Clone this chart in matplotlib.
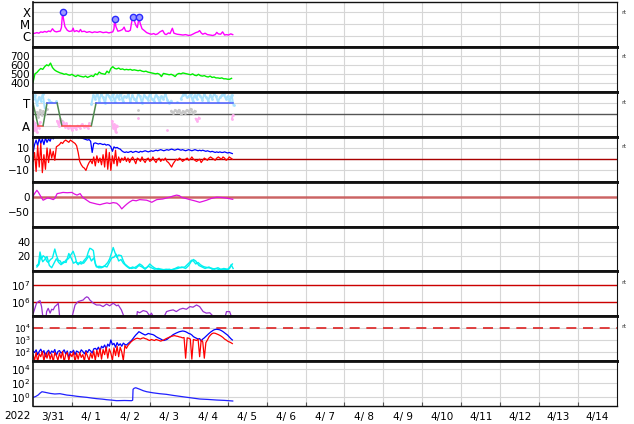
import numpy as np
import matplotlib
matplotlib.use("Agg")
import matplotlib.pyplot as plt

# time axis: days since 2022-03-31 00:00
day_labels = ["3/31", "4/ 1", "4/ 2", "4/ 3", "4/ 4", "4/ 5", "4/ 6", "4/ 7",
              "4/ 8", "4/ 9", "4/10", "4/11", "4/12", "4/13", "4/14"]

# --- panel 1: X-ray flux ---
xrs_t = [0.00, 0.05, 0.10, 0.15, 0.20, 0.25, 0.30, 0.35, 0.40, 0.45, 0.50, 0.55, 0.60, 0.65,
         0.70, 0.73, 0.76, 0.78, 0.82, 0.88, 0.93, 1.00, 1.03, 1.06, 1.12, 1.18, 1.22, 1.25,
         1.32, 1.38, 1.45, 1.52, 1.58, 1.65, 1.72, 1.80, 1.88, 1.95, 2.00, 2.05, 2.08, 2.10,
         2.13, 2.18, 2.24, 2.30, 2.34, 2.38, 2.45, 2.50, 2.53, 2.56, 2.60, 2.64, 2.68, 2.70,
         2.72, 2.75, 2.80, 2.86, 2.92, 3.00, 3.05, 3.10, 3.15, 3.20, 3.26, 3.33, 3.38, 3.42,
         3.48, 3.52, 3.58, 3.62, 3.70, 3.78, 3.85, 3.92, 4.00, 4.06, 4.12, 4.18, 4.24, 4.28,
         4.32, 4.36, 4.42, 4.48, 4.55, 4.62, 4.68, 4.72, 4.76, 4.82, 4.87, 4.92, 4.97, 5.02,
         5.08, 5.13]
xrs_v = [1.6e-6, 1.7e-6, 1.9e-6, 1.7e-6, 2.2e-6, 2.0e-6, 2.4e-6, 2.1e-6, 2.6e-6, 2.3e-6,
         4.0e-6, 2.5e-6, 2.2e-6, 2.4e-6, 2.6e-6, 5.0e-6, 9.5e-5, 3.0e-5, 6.0e-6, 3.0e-6,
         2.4e-6, 2.6e-6, 4.5e-6, 2.3e-6, 2.8e-6, 2.2e-6, 3.5e-6, 2.3e-6, 2.5e-6, 2.0e-6,
         2.3e-6, 1.9e-6, 2.2e-6, 2.0e-6, 2.3e-6, 1.9e-6, 2.1e-6, 1.8e-6, 2.0e-6, 2.2e-6,
         4.0e-6, 2.8e-5, 6.0e-6, 2.5e-6, 2.8e-6, 3.5e-6, 5.5e-6, 2.6e-6, 2.4e-6, 3.0e-6,
         1.2e-5, 4.0e-5, 2.0e-5, 8.0e-6, 5.0e-6, 1.2e-5, 4.0e-5, 1.2e-5, 4.0e-6, 2.8e-6,
         1.9e-6, 1.5e-6, 1.4e-6, 1.6e-6, 1.3e-6, 1.5e-6, 2.2e-6, 2.9e-6, 1.5e-6, 1.3e-6,
         1.8e-6, 1.6e-6, 4.4e-6, 1.7e-6, 1.4e-6, 1.3e-6, 1.2e-6, 1.3e-6, 1.1e-6, 1.2e-6,
         1.5e-6, 1.9e-6, 2.2e-6, 2.8e-6, 1.8e-6, 1.4e-6, 1.7e-6, 1.3e-6, 1.2e-6, 1.1e-6,
         1.3e-6, 2.0e-6, 1.5e-6, 1.4e-6, 2.2e-6, 1.2e-6, 1.3e-6, 1.2e-6, 1.5e-6, 1.3e-6]
flare_t = [0.76, 2.10, 2.56, 2.72]
flare_v = [9.5e-5, 2.8e-5, 4.0e-5, 4.0e-5]

# --- panel 2: solar wind speed (every 0.05 day) ---
sw_dt = 0.05
sw_v = [405, 500, 515, 540, 560, 550, 580, 600, 590, 620, 570, 545, 530, 520, 510, 505,
        495, 500, 490, 485, 495, 480, 470, 485, 475, 470, 465, 475, 460, 470, 480, 470,
        500, 490, 520, 505, 500, 495, 530, 510, 560, 580, 560, 555, 565, 550, 555, 545,
        550, 545, 550, 540, 545, 540, 535, 540, 530, 525, 530, 520, 515, 510, 505, 500,
        505, 495, 470, 505, 500, 495, 490, 495, 485, 470, 495, 505, 500, 510, 505, 500,
        495, 490, 500, 485, 480, 495, 480, 475, 480, 470, 465, 475, 460, 465, 455, 455,
        450, 455, 445, 445, 440, 440, 450]

# --- panel 3: IMF sector ---
sector_t = [0.00, 0.13, 0.26, 0.36, 0.62, 0.74, 1.50, 1.62, 5.13]
sector_v = [0.5, -0.5, -0.5, 0.5, 0.5, -0.5, -0.5, 0.5, 0.5]
nan = np.nan
phi_dt = 0.05
phi_v = [0.7, 0.85, 0.4, 0.75, 0.6, 0.9, 0.3,
         nan, 0.65, 0.55, nan, nan, 0.6,
         nan, nan, nan, nan, nan, nan, nan, nan, nan, nan, nan, nan, nan, nan, nan, nan, nan,
         0.45, 0.85, 0.7, 0.95, 0.6, 0.9, 0.75, 0.5, 0.95, 0.8,
         0.65, 0.9, 0.55, 0.85, 0.7, 0.95, 0.6, 0.8, 0.75, 0.9,
         0.55, 0.85, 0.7, 0.6, 0.9, 0.8, 0.5, 0.85, 0.75, 0.65,
         0.9, 0.7, 0.6, 0.85, 0.75, 0.55, 0.8, 0.7, 0.9, 0.65,
         0.5, 0.6, nan, nan, 0.55, nan, 0.7, 0.85, 0.95, 0.75,
         0.8, 0.9, 0.6, 0.85, 0.7, 0.95, 0.8, 0.65, 0.9, 0.75,
         0.6, 0.85, 0.7, 0.9, 0.8, 0.55, 0.75, 0.85, 0.9, 0.7,
         0.8, 0.6, 0.85, 0.4]
pink_t = [0.00, 0.03, 0.06, 0.09, 0.12, 0.15, 0.18, 0.20, 0.62, 0.66, 0.70, 0.74, 0.78, 0.82,
          0.86, 0.90, 0.95, 1.00, 1.05, 1.10, 1.15, 1.20, 1.25, 1.30, 1.35, 1.40, 1.45, 1.47,
          2.03, 2.06, 2.09, 2.12, 2.15, 2.17, 2.70, 2.72, 3.45, 3.47, 4.18, 4.22, 4.26, 4.28,
          5.11, 5.13]
pink_v = [-0.3, -0.7, -0.4, -0.8, -0.5, -0.6, -0.35, nan, -0.3, -0.5, -0.2, -0.45, -0.35, -0.55,
          -0.4, -0.6, -0.5, -0.7, -0.55, -0.65, -0.5, -0.6, -0.45, -0.55, -0.5, -0.6, -0.4, nan,
          -0.3, -0.6, -0.45, -0.8, -0.5, nan, -0.15, nan, -0.7, nan, -0.2, -0.3, -0.15, nan,
          -0.2, -0.05]
gray_t = [0.10, 0.14, 0.18, 0.22, 0.26, 0.30, 0.35, 0.37, 0.70, 0.75, 0.77, 2.70, 2.72,
          3.55, 3.60, 3.65, 3.70, 3.75, 3.80, 3.85, 3.90, 3.95, 4.00, 4.05, 4.10, 4.15]
gray_v = [0.1, -0.1, 0.2, -0.05, 0.15, 0.0, 0.25, nan, -0.2, -0.3, nan, 0.2, nan,
          0.15, 0.05, 0.2, 0.1, 0.2, 0.0, 0.15, 0.05, 0.2, 0.1, 0.25, 0.05, 0.15]

# --- panel 4: IMF Bt / Bz (every 0.04 day) ---
imf_dt = 0.04
bt_v = [5, 13, 17, 12, 19, 14, 18, 13, 19, 15, 18, 16, 20, 18, 20,
        20.5, 21, 20, 21, 20.5, 21, 21, 20.5, 20, 21, 20.5, 19.5, 20, 20.5, 19, 19.5, 19,
        18.5, 18, 17.5, 17, 17.5, 16, 6, 14, 14.5, 14, 13.5, 14, 13.5, 13, 13.5, 12.5, 13,
        12.5, 11, 7, 11, 10, 10.5, 9.5, 9, 7.5, 6.5, 6, 6.5,
        6, 6.5, 7, 6, 6.5, 7, 6.5, 6, 7, 6.5, 7, 7.5, 7, 6.5, 7, 7.5, 7, 7.5, 8,
        7.5, 8, 8.5, 8, 7.5, 8, 8.5, 8, 8.5, 9, 8.5, 8, 8.5, 9, 8.5, 8, 8.5, 8, 7.5, 8,
        8.5, 8, 7.5, 8, 8.5, 8, 7.5, 8, 7.5, 8, 7.5, 7, 7.5,
        7, 6.5, 7, 6.5, 6, 6.5, 6, 6.5, 6, 6, 6.5, 6, 5.5, 6, 5.5, 5]
bz_v = [-2, 6, -11, 12, -7, 14, -12, 4, -9, 10, -3, 9, 1, 7, -1, 11,
        12, 13, 15, 14, 16, 17, 16, 15, 17, 16, 15, 14, 12,
        6, -2, -5, -7, -8, -10, -6, -3, -1,
        -4, 2, -6, 3, -3, 1, -5, 4, -7, 9, -9, 6, -10, 3, -4, 8, -6, 2, -3, 1,
        -1, 2, -2, 1, -3, 0, 2, -1, -4, 1, 0, -2, 2, -1, -3, 0, 1, -2, -1, 2,
        -1, -3, 0, 1, -2, 0, -1, 1, -2, -3, -5, -7, -4, -2, 0, -1, 1, 0, -2, -1,
        0, 1, -1, 0, 2, 0, -1, -2, -1, 0, -3, -1, 1, 0, -1, 1, 2, 1, 0, -1,
        1, 2, 1, 0, 2, 1, -1, 0, 2, 1, 0]

# --- panel 5: Dst ---
dst_t = [0.00, 0.05, 0.10, 0.14, 0.18, 0.22, 0.26, 0.32, 0.38, 0.46, 0.52, 0.56, 0.62, 0.70,
         0.77, 0.88, 1.00, 1.06, 1.13, 1.21, 1.28, 1.36, 1.46, 1.55, 1.64, 1.72, 1.80, 1.90,
         1.97, 2.06, 2.15, 2.22, 2.28, 2.35, 2.41, 2.48, 2.56, 2.65, 2.74, 2.83, 2.92, 3.00,
         3.05, 3.12, 3.18, 3.25, 3.33, 3.42, 3.51, 3.60, 3.69, 3.76, 3.82, 3.92, 4.03, 4.15,
         4.28, 4.36, 4.46, 4.58, 4.72, 4.84, 4.97, 5.05, 5.13]
dst_v = [1, 12, 21, 14, 5, -4, -12, -8, -4, -7, -10, -6, 10, 12, 14, 13, 14, 9, 5, 10, -3,
         -10, -19, -22, -25, -27, -24, -21, -23, -20, -22, -30, -41, -32, -25, -18, -12, -14,
         -10, -11, -12, -16, -19, -14, -10, -9, -8, -5, -2, 2, 5, 3, -3, -6, -10, -14, -19,
         -16, -12, -6, -2, -3, -5, -7, -9]

# --- panel 6: cyan pair ---
cy1_t = [0.10, 0.14, 0.18, 0.22, 0.26, 0.31, 0.35, 0.39, 0.45, 0.50, 0.56, 0.60, 0.65, 0.70,
         0.74, 0.80, 0.86, 0.91, 0.97, 1.03, 1.08, 1.12, 1.18, 1.25, 1.30, 1.38, 1.42, 1.46,
         1.50, 1.55, 1.60, 1.63, 1.70, 1.78, 1.85, 1.92, 1.97, 2.02, 2.06, 2.10, 2.15, 2.20,
         2.27, 2.32, 2.36, 2.45, 2.53, 2.60, 2.67, 2.74, 2.80, 2.87, 2.94, 3.00, 3.06, 3.13,
         3.20, 3.30, 3.40, 3.50, 3.56, 3.65, 3.73, 3.80, 3.90, 3.96, 4.02, 4.07, 4.12, 4.18,
         4.24, 4.30, 4.36, 4.41, 4.50, 4.58, 4.66, 4.75, 4.82, 4.92, 5.00, 5.05, 5.09, 5.14]
cy1_v = [8, 10, 26, 17, 21, 19, 14, 12, 16, 18, 30, 22, 15, 14, 10, 12, 16, 17, 22, 27, 20,
         12, 11, 10, 14, 19, 26, 31, 30, 28, 10, 6, 7, 6, 8, 12, 17, 25, 32, 26, 19, 22, 21,
         14, 10, 6, 4, 5, 7, 10, 8, 4, 6, 10, 7, 4.5, 3, 3, 2, 3, 2, 4, 6, 5, 6, 9, 12, 15,
         14, 10, 12, 9, 7, 6, 5, 4.5, 3, 5, 3, 3, 2, 4, 9, 4]
cy2_t = [0.10, 0.15, 0.20, 0.25, 0.30, 0.36, 0.42, 0.48, 0.55, 0.60, 0.66, 0.72, 0.78, 0.85,
         0.92, 0.98, 1.04, 1.10, 1.16, 1.22, 1.30, 1.36, 1.44, 1.50, 1.56, 1.62, 1.68, 1.76,
         1.84, 1.90, 1.96, 2.02, 2.08, 2.14, 2.20, 2.26, 2.32, 2.40, 2.48, 2.56, 2.64, 2.72,
         2.80, 2.88, 2.96, 3.04, 3.12, 3.22, 3.32, 3.42, 3.52, 3.62, 3.72, 3.82, 3.92, 4.00,
         4.06, 4.12, 4.18, 4.26, 4.34, 4.42, 4.52, 4.60, 4.70, 4.80, 4.90, 5.00, 5.06, 5.12]
cy2_v = [6, 9, 20, 13, 16, 20, 8, 5, 12, 17, 12, 9, 13, 12, 24, 18, 11, 13, 9, 13, 11, 15,
         21, 14, 18, 8, 5, 5, 7, 6, 12, 18, 19, 23, 14, 16, 11, 7, 4, 6, 4, 8, 6, 3, 7, 5, 3,
         4, 2, 3, 2, 3, 4, 6, 4, 8, 13, 16, 14, 8, 6, 4, 6, 3, 4, 2, 4, 3, 6, 10]

# --- panel 7: electron flux ---
ef_t = [0.01, 0.09, 0.14, 0.18, 0.22, 0.26, 0.33, 0.35, 0.39, 0.44, 0.48, 0.52, 0.56, 0.61,
        0.65, 0.69, 0.99, 1.08, 1.16, 1.29, 1.33, 1.38, 1.42, 1.46, 1.55, 1.63, 1.72, 1.80,
        1.89, 1.97, 2.06, 2.15, 2.19, 2.27, 2.36, 2.66, 2.68, 2.74, 2.83, 2.92, 3.00, 3.04,
        3.13, 3.34, 3.43, 3.51, 3.60, 3.68, 3.77, 3.85, 3.94, 4.03, 4.11, 4.20, 4.28, 4.37,
        4.45, 4.54, 4.62, 4.71, 4.92, 4.97, 5.05, 5.09]
ef_v = [2.2e5, 8.4e5, 1.05e6, 1.2e6, 5.3e5, 1e5, 1e5, 2.7e5, 4.2e5, 2.2e5, 3.7e5, 3.4e5,
        5.3e5, 6.6e5, 8.4e5, 1e5, 1e5, 6.6e5, 1.05e6, 1.3e6, 1.65e6, 2.0e6, 1.8e6, 1.3e6,
        8.4e5, 6.6e5, 6.6e5, 5.3e5, 7.5e5, 5.9e5, 8.4e5, 5.9e5, 6.6e5, 3.4e5, 1e5, 1e5,
        2.7e5, 2.3e5, 3.1e5, 2.7e5, 1.5e5, 2.2e5, 1e5, 1e5, 2.7e5, 3.1e5, 3.4e5, 2.7e5,
        3.7e5, 4.2e5, 3.7e5, 5.3e5, 4.9e5, 6.6e5, 5.3e5, 2.7e5, 2.2e5, 2.3e5, 1.5e5, 1e5,
        1e5, 2.7e5, 2.7e5, 1.5e5]

# --- panel 8: proton flux pair (every 0.04 day) ---
pf_dt = 0.04
pf_blue = [120, 90, 150, 60, 110, 170, 80, 130, 40, 100, 140, 70, 120, 90, 160, 50, 110, 130,
           80, 100, 150, 70, 120, 30, 110, 90, 140, 60, 120, 100, 80, 150, 110, 70, 130, 90,
           160, 120, 80, 180,
           200, 150, 250, 120, 300, 220, 380, 180, 450, 300, 1000, 400, 520, 250, 600, 350,
           480, 300, 550, 420,
           380, 500, 650, 830, 1200, 1800, 2600, 3500, 4900, 4200, 3500, 3000, 2600, 2900,
           3500, 3200, 3000, 2800, 2400, 1900,
           1600, 1400, 1200, 1000, 900, 1000, 1100, 1400, 1800, 2200, 2800, 3300, 3800, 4300,
           4900, 5200, 5600, 5400, 4900, 4200,
           3500, 3200, 2600, 1900, 1600, 1400, 1200, 1300, 800, 1200, 1500, 2000, 2600, 3500,
           4500, 5500, 6800, 7500, 7800, 7500,
           7000, 6000, 5000, 4000, 3200, 2500, 1800, 1300, 1000]
pf_red = [60, 20, 90, 15, 70, 40, 110, 18, 80, 30, 100, 25, 70, 15, 90, 50, 20, 80, 30, 110,
          15, 60, 90, 20, 70, 40, 100, 15, 80, 25, 90, 35, 60, 18, 100, 45, 20, 80, 30, 120,
          20, 140, 40, 200, 25, 160, 60, 250, 30, 180, 80, 20, 220, 50, 300, 40, 250, 100, 20,
          350,
          200, 350, 500, 700, 900, 1100, 1300, 1400, 1300, 1200, 1400, 1500, 1300, 1200, 1000,
          900, 1100, 1000, 900, 1100,
          1000, 900, 800, 900, 1000, 1200, 1400, 1600, 1800, 2000, 2200, 2300, 2100, 2000,
          1800, 1700, 1500, 1600, 30, 1500,
          1400, 1200, 25, 1100, 1000, 900, 1200, 40, 1000, 700, 30, 600, 1000, 1800, 2600,
          3400, 3800, 3600, 3200, 2800,
          2400, 2000, 1600, 1200, 1000, 800, 700, 600, 500]

# --- panel 9: blue decay curve ---
p9_t = [0.01, 0.07, 0.13, 0.18, 0.23, 0.31, 0.44, 0.56, 0.69, 0.87, 1.00, 1.13, 1.26, 1.38,
        1.52, 1.64, 1.78, 1.90, 2.02, 2.15, 2.35, 2.53, 2.56, 2.57, 2.60, 2.64, 2.74, 2.83,
        2.92, 3.08, 3.25, 3.43, 3.60, 3.77, 3.90, 4.03, 4.15, 4.28, 4.50, 4.72, 4.92, 5.13]
p9_v = [0.9, 1.2, 1.9, 3.5, 5.7, 4.7, 3.3, 2.7, 3.0, 1.9, 1.6, 1.26, 1.05, 0.9, 0.7, 0.58,
        0.5, 0.41, 0.36, 0.3, 0.32, 0.3, 0.35, 12.6, 18, 21, 13, 8, 5.7, 4.0, 3.0, 2.4, 1.7,
        1.26, 1.0, 0.8, 0.65, 0.52, 0.45, 0.37, 0.33, 0.27]

W, H = 634, 424
fig = plt.figure(figsize=(W / 100, H / 100), dpi=100)
top_px, bot_px = 2.0, 406.2
ph = (bot_px - top_px) / 9
axes = []
for i in range(9):
    y0 = 1 - (top_px + (i + 1) * ph) / H
    ax = fig.add_axes([33 / W, y0, 584 / W, ph / H])
    ax.set_xlim(0, 15)
    ax.set_xticks(np.arange(1, 15))
    ax.tick_params(axis="x", labelbottom=False, length=0)
    ax.tick_params(axis="y", length=0, labelsize=7.5, pad=2)
    ax.grid(True, color="#d6d6d6", lw=0.8)
    ax.set_axisbelow(True)
    for s in ax.spines.values():
        s.set_color("#111111")
    ax.spines["left"].set_linewidth(1.2)
    ax.spines["right"].set_linewidth(0.8)
    ax.spines["top"].set_linewidth(1.0 if i == 0 else 2.0)
    ax.spines["bottom"].set_linewidth(1.0 if i == 8 else 2.0)
    axes.append(ax)

ax1, ax2, ax3, ax4, ax5, ax6, ax7, ax8, ax9 = axes

# 1: x-ray
ax1.set_yscale("log")
ax1.set_ylim(10 ** -6.91, 10 ** -3.17)
ax1.yaxis.set_minor_locator(plt.NullLocator())
ax1.set_yticks([1e-4, 1e-5, 1e-6], ["X", "M", "C"])
ax1.tick_params(axis="y", labelsize=8.5)
ax1.plot(xrs_t, xrs_v, color="#ff00ff", lw=1)
ax1.plot(flare_t, flare_v, "o", ms=4.5, mfc="#9a9aff", mec="#2a2aff", mew=1)

# 2: solar wind speed
ax2.set_ylim(300, 800)
ax2.set_yticks([400, 500, 600, 700])
ax2.plot(np.arange(len(sw_v)) * sw_dt, sw_v, color="#00ee00", lw=1)

# 3: sector
ax3.set_ylim(-1, 1)
ax3.set_yticks([0.5, -0.5], ["T", "A"])
ax3.tick_params(axis="y", labelsize=8.5)
ax3.axhline(0, color="#555555", lw=1)
ax3.plot(np.arange(len(phi_v)) * phi_dt, phi_v, color="#a8e2ff", lw=1.4,
         marker=".", ms=2)
ax3.plot(gray_t, gray_v, color="#c8c8c8", lw=1.4, marker=".", ms=2)
ax3.plot(pink_t, pink_v, color="#ffb0f0", lw=1.4, marker=".", ms=2)
for k in range(len(sector_t) - 1):
    v0, v1 = sector_v[k], sector_v[k + 1]
    c = "#4f8a4f" if v0 != v1 else ("#4a5cff" if v0 > 0 else "#ff4a4a")
    ax3.plot(sector_t[k:k + 2], sector_v[k:k + 2], color=c, lw=1.1)

# 4: IMF
ax4.set_ylim(-20, 20)
ax4.set_yticks([10, 0, -10], ["10", "0", "\u221210"])
ax4.axhline(0, color="#aa0000", lw=1)
ax4.plot(np.arange(len(bt_v)) * imf_dt, bt_v, color="#0000ff", lw=0.9)
ax4.plot(np.arange(len(bz_v)) * imf_dt, bz_v, color="#ff0000", lw=0.9)

# 5: Dst
ax5.set_ylim(-100, 50)
ax5.set_yticks([0, -50], ["0", "\u221250"])
ax5.axhline(0, color="#c85050", lw=1.8, alpha=0.85)
ax5.plot(dst_t, dst_v, color="#e010e0", lw=0.9)

# 6: cyan
ax6.set_ylim(0, 60)
ax6.set_yticks([20, 40])
ax6.plot(cy1_t, cy1_v, color="#00f0f0", lw=1)
ax6.plot(cy2_t, cy2_v, color="#00f0f0", lw=1)

# 7: electrons
ax7.set_yscale("log")
ax7.set_ylim(10 ** 5.15, 10 ** 7.79)
ax7.yaxis.set_minor_locator(plt.NullLocator())
ax7.set_yticks([1e6, 1e7])
ax7.axhline(1e6, color="#cc0000", lw=1)
ax7.axhline(1e7, color="#cc0000", lw=1)
ax7.plot(ef_t, ef_v, color="#9a30d0", lw=0.9)

# 8: protons
ax8.set_yscale("log")
ax8.set_ylim(10 ** 1.22, 10 ** 4.97)
ax8.yaxis.set_minor_locator(plt.NullLocator())
ax8.set_yticks([1e2, 1e3, 1e4])
ax8.tick_params(axis="y", labelsize=6.5, pad=1.5)
ax8.axhline(1e4, color="#dd2222", lw=1.2, dashes=(6, 4))
ax8.plot(np.arange(len(pf_blue)) * pf_dt, pf_blue, color="#0000ff", lw=0.9)
ax8.plot(np.arange(len(pf_red)) * pf_dt, pf_red, color="#ff0000", lw=0.9)

# 9: decay curve
ax9.set_yscale("log")
ax9.set_ylim(10 ** -1.31, 10 ** 5.1)
ax9.yaxis.set_minor_locator(plt.NullLocator())
ax9.set_yticks([1e0, 1e2, 1e4])
ax9.plot(p9_t, p9_v, color="#2020ff", lw=0.9)

ax9.set_xticks(np.arange(15) + 0.5, day_labels, minor=True)
ax9.tick_params(axis="x", which="minor", length=0, labelbottom=True, labelsize=7.5, pad=4)
ax9.tick_params(axis="x", which="major", direction="in", length=3, color="#555555")
fig.text(17 / W, 1 - 416 / H, "2022", fontsize=7.5, ha="center", va="center")

for y in [13, 57, 102, 147, 283, 327]:
    fig.text(621 / W, 1 - y / H, "rt", fontsize=4.5, color="#333333", va="center")

fig.savefig("out.png", dpi=100)
